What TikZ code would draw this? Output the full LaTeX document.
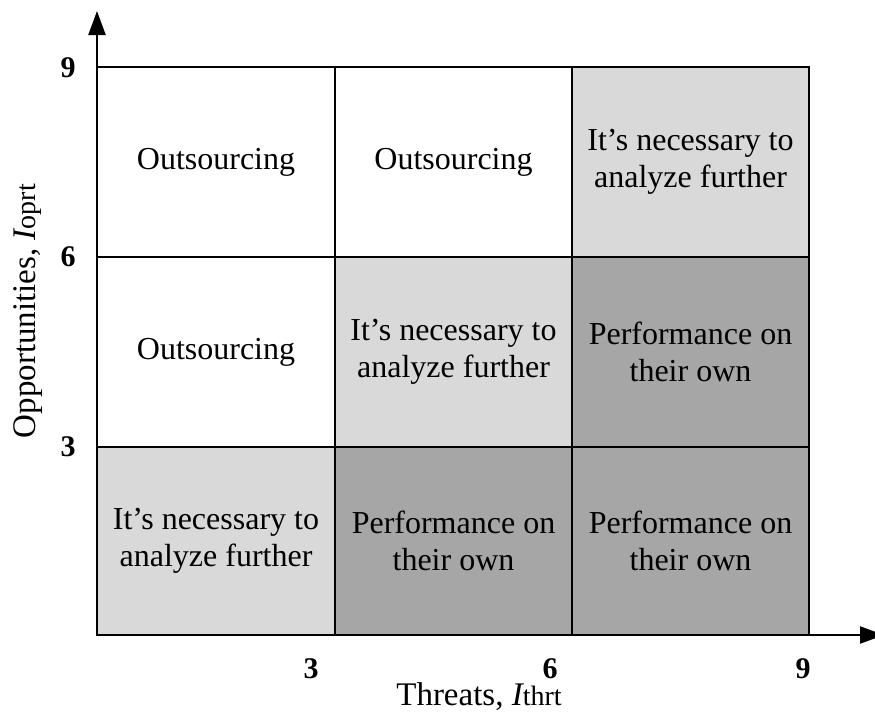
\documentclass[tikz,border=0pt]{standalone}
\usepackage{fontspec}
\setmainfont{Liberation Serif}
\usetikzlibrary{arrows.meta}
\definecolor{lightcell}{HTML}{D9D9D9}
\definecolor{darkcell}{HTML}{A6A6A6}
\begin{document}
\begin{tikzpicture}[x=1pt,y=-1pt,
  cell/.style={draw=black,line width=1.3pt},
  celltext/.style={align=center,font=\fontsize{32}{37}\selectfont,inner sep=0pt},
  tick/.style={font=\fontsize{30}{30}\bfseries\selectfont,inner sep=0pt},
  axis/.style={line width=2.2pt,-{Triangle[length=24pt,width=17pt]}},
  axlabel/.style={font=\fontsize{33}{33}\selectfont,inner sep=0pt}]
\useasboundingbox (0,0) rectangle (875,715);
% cells: columns at 97, 335, 572, 809; rows at 67, 257, 447, 635
\fill[white] (97,67) rectangle (572,447);
\fill[lightcell] (572,67) rectangle (809,257);
\fill[lightcell] (335,257) rectangle (572,447);
\fill[lightcell] (97,447) rectangle (335,635);
\fill[darkcell] (572,257) rectangle (809,447);
\fill[darkcell] (335,447) rectangle (809,635);
\draw[cell] (97,67) rectangle (809,635);
\draw[cell] (335,67) -- (335,635);
\draw[cell] (572,67) -- (572,635);
\draw[cell] (97,257) -- (809,257);
\draw[cell] (97,447) -- (809,447);
% axes
\coordinate (o) at (97,635);
\coordinate (ytip) at (97,11);
\coordinate (xtip) at (884,635);
\draw[axis] (o) -- (ytip);
\draw[axis] (o) -- (xtip);
% cell texts
\node[celltext] (c11) at (216,162) {Outsourcing};
\node[celltext] (c12) at (453.5,162) {Outsourcing};
\node[celltext] (c13) at (690.5,162) {It’s necessary to\\analyze further};
\node[celltext] (c21) at (216,352) {Outsourcing};
\node[celltext] (c22) at (453.5,352) {It’s necessary to\\analyze further};
\node[celltext] (c23) at (690.5,352) {Performance on\\their own};
\node[celltext] (c31) at (216,541) {It’s necessary to\\analyze further};
\node[celltext] (c32) at (453.5,541) {Performance on\\their own};
\node[celltext] (c33) at (690.5,541) {Performance on\\their own};
% tick labels
\node[tick] (y9) at (68,68) {9};
\node[tick] (y6) at (68,257) {6};
\node[tick] (y3) at (68,447) {3};
\node[tick] (x3) at (311,669) {3};
\node[tick] (x6) at (550,669) {6};
\node[tick] (x9) at (803,669) {9};
% axis titles
\node[axlabel] (xl) at (479,697) {Threats, {\itshape I}{\fontsize{28}{28}\selectfont thrt}};
\node[axlabel,rotate=90] (yl) at (28,311) {Opportunities, {\itshape I}{\fontsize{28}{28}\selectfont oprt}};
\end{tikzpicture}
\end{document}
